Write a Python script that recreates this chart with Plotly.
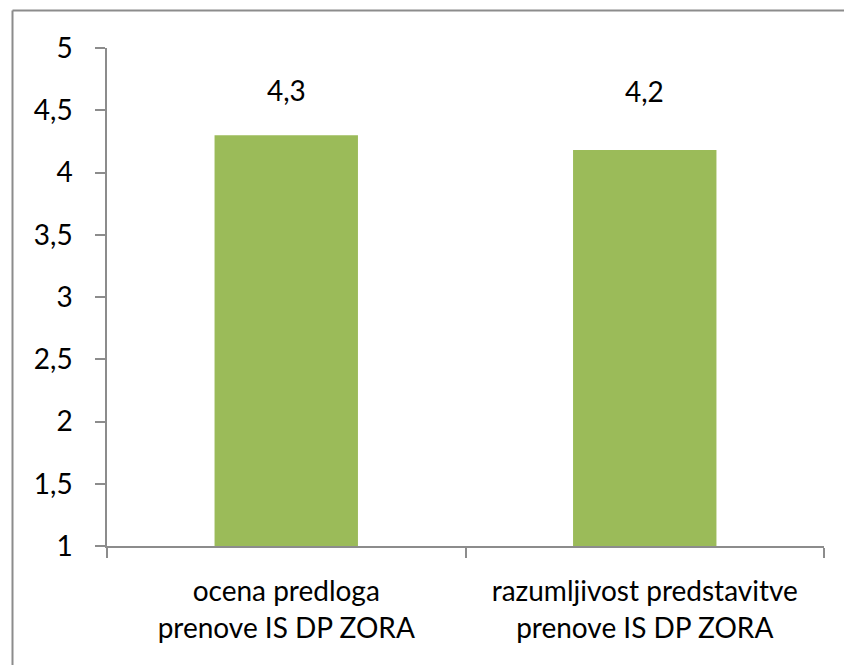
import plotly.graph_objects as go

categories = ["ocena predloga<br>prenove IS DP ZORA", "razumljivost predstavitve<br>prenove IS DP ZORA"]
values = [4.3, 4.18]
value_labels = ["4,3", "4,2"]
label_shift = [45, 59]
y_ticks = [1, 1.5, 2, 2.5, 3, 3.5, 4, 4.5, 5]
y_tick_labels = ["1", "1,5", "2", "2,5", "3", "3,5", "4", "4,5", "5"]

W, H = 844, 665
L, R, T, B = 107, 824, 48, 546
FONT = "Lato"
FS = 28

fig = go.Figure()
fig.add_trace(go.Bar(
    x=categories, y=values, marker=dict(color="#9BBB59", line=dict(width=0)),
    width=0.40, base=0,
))

for c, v, t, s in zip(categories, values, value_labels, label_shift):
    fig.add_annotation(x=c, y=v, text=t, showarrow=False, yshift=s,
                       font=dict(family=FONT, size=FS, color="#000000"))

pw, ph = R - L, B - T
xl = (12.5 - L) / pw
yt = (B - 10.5) / ph
fig.add_shape(type="line", xref="paper", yref="paper",
              x0=xl, x1=xl, y0=(B - (H + 20)) / ph, y1=yt,
              line=dict(color="#8c8c8c", width=2))
fig.add_shape(type="line", xref="paper", yref="paper",
              x0=xl, x1=(W + 20 - L) / pw, y0=yt, y1=yt,
              line=dict(color="#8c8c8c", width=2))

fig.update_layout(
    width=W, height=H,
    margin=dict(l=L, r=W - R, t=T, b=H - B),
    paper_bgcolor="white", plot_bgcolor="white",
    showlegend=False,
    bargap=0.6,
    font=dict(family=FONT, size=FS, color="#000000"),
)
fig.update_yaxes(range=[1, 5], tickvals=y_ticks, ticktext=y_tick_labels,
                 showgrid=False, zeroline=False, showline=True,
                 linecolor="#8c8c8c", linewidth=1.5,
                 ticks="outside", ticklen=10, tickcolor="#8c8c8c", tickwidth=1.5,
                 tickfont=dict(family=FONT, size=FS), ticklabelstandoff=17)
fig.update_xaxes(showgrid=False, zeroline=False, showline=True,
                 linecolor="#8c8c8c", linewidth=1.5,
                 ticks="outside", ticklen=10, tickcolor="#8c8c8c", tickwidth=1.5,
                 tickson="boundaries", ticklabelstandoff=20,
                 tickfont=dict(family=FONT, size=FS))

fig.write_html("out.html", config={"displayModeBar": False},
               post_script="document.body.style.margin='0';document.body.style.overflow='hidden';")
